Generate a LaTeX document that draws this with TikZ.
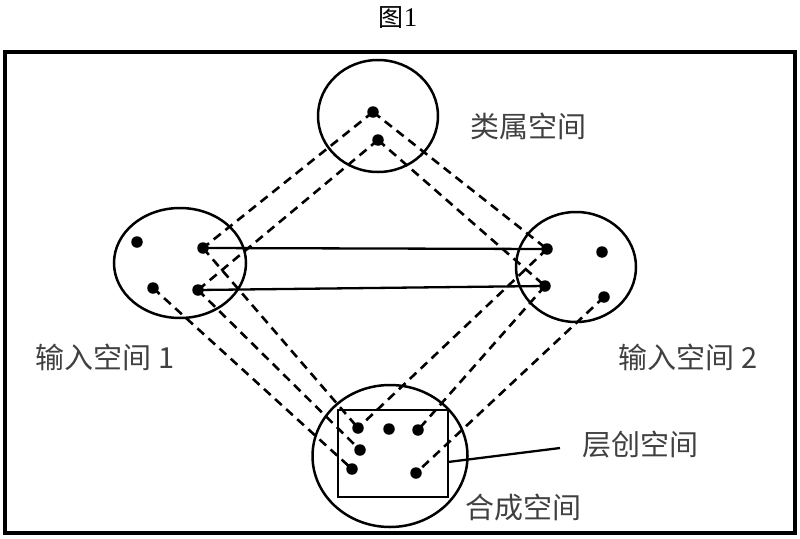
\documentclass[tikz,border=0pt]{standalone}
\usepackage{fontspec}
\newfontfamily\cjk{Noto Sans CJK SC}
\newfontfamily\titleserif{Liberation Serif}
\usetikzlibrary{shapes.geometric}
\begin{document}
\begin{tikzpicture}[x=1pt,y=-1pt,
  dot/.style={circle,fill=black,inner sep=0pt,minimum size=11.5pt},
  spacebox/.style={ellipse,draw,line width=2.5pt,inner sep=0pt},
  link/.style={line width=2.3pt},
  dlink/.style={line width=2.6pt,dash pattern=on 9pt off 6pt},
  lbl/.style={font=\cjk\fontsize{29}{32}\selectfont,text=black!75,inner sep=0pt}]
\useasboundingbox (0,0) rectangle (800,538);
% title
\node[inner sep=0pt] (title) at (398,18) {{\cjk\fontsize{25}{28}\selectfont 图}{\titleserif\fontsize{27}{28}\selectfont 1}};
% frame
\draw[line width=3.4pt] (5,52) rectangle (795,533);
% spaces
\node[spacebox,minimum width=120pt,minimum height=112pt] (top) at (378,116) {};
\node[spacebox,minimum width=132pt,minimum height=110pt] (left) at (180,263) {};
\node[spacebox,minimum width=120pt,minimum height=110pt] (right) at (576,267) {};
\node[spacebox,minimum width=155pt,minimum height=142pt] (bottom) at (390,456) {};
\draw[line width=2.5pt] (338,410) rectangle (448,497);
\coordinate (rectR) at (448,462);
% dots
\node[dot] (T1) at (373,112) {};
\node[dot] (T2) at (378,140) {};
\node[dot] (L1) at (137,242) {};
\node[dot] (L2) at (203,248) {};
\node[dot] (L3) at (153,288) {};
\node[dot] (L4) at (198,290) {};
\node[dot] (R1) at (547,249) {};
\node[dot] (R2) at (602,252) {};
\node[dot] (R3) at (545,286) {};
\node[dot] (R4) at (604,297) {};
\node[dot] (B1) at (358,428) {};
\node[dot] (B2) at (389,429) {};
\node[dot] (B3) at (418,430) {};
\node[dot] (B4) at (360,450) {};
\node[dot] (B5) at (352,469) {};
\node[dot] (B6) at (416,473) {};
% solid links
\draw[link] (L2.center) -- (R1.center);
\draw[link] (L4.center) -- (R3.center);
% dashed links
\draw[dlink] (T1.center) -- (L2.center);
\draw[dlink] (T2.center) -- (L4.center);
\draw[dlink] (T1.center) -- (R1.center);
\draw[dlink] (T2.center) -- (R3.center);
\draw[dlink] (L2.center) -- (B1.center);
\draw[dlink] (L4.center) -- (B4.center);
\draw[dlink] (L3.center) -- (B5.center);
\draw[dlink] (R1.center) -- (B1.center);
\draw[dlink] (R3.center) -- (B3.center);
\draw[dlink] (R4.center) -- (B6.center);
% labels
\node[lbl] (ltop) at (528,126) {类属空间};
\node[lbl] (lleft) at (105,357) {输入空间 1};
\node[lbl] (lright) at (688,357) {输入空间 2};
\node[lbl] (lemerg) at (640,445) {层创空间};
\node[lbl] (lblend) at (523,507) {合成空间};
\coordinate (lineend) at (560,448);
\draw[line width=2.3pt] (rectR) -- (lineend);
\end{tikzpicture}
\end{document}
